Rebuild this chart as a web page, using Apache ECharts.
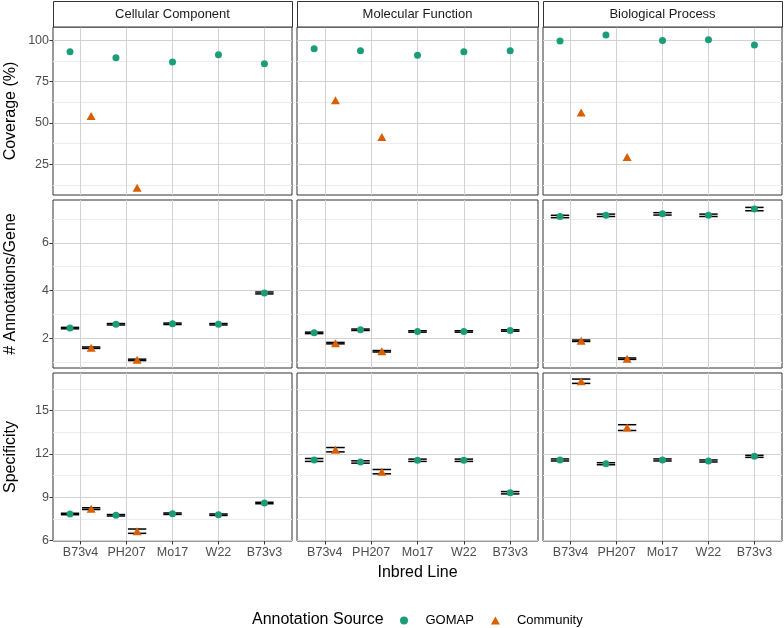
<!DOCTYPE html>
<html><head><meta charset="utf-8">
<script src="https://cdn.jsdelivr.net/npm/echarts@6/dist/echarts.min.js"></script>
<style>html,body{margin:0;padding:0;background:#fff}#c{width:784px;height:628px}</style>
</head><body><div id="c"></div><script>
// ---------------- data ----------------
const categories = ['B73v4', 'PH207', 'Mo17', 'W22', 'B73v3'];
const facets = ['Cellular Component', 'Molecular Function', 'Biological Process'];
const rowTitles = ['Coverage (%)', '# Annotations/Gene', 'Specificity'];
const sources = ['GOMAP', 'Community'];

// Coverage (%)  (no error bars)
const covGomapCC = [92.9, 89.3, 86.7, 91.1, 85.7];
const covCommCC  = [54.2, 10.8, null, null, null];
const covGomapMF = [94.7, 93.5, 90.9, 92.9, 93.5];
const covCommMF  = [63.7, 41.5, null, null, null];
const covGomapBP = [99.4, 103.0, 99.8, 100.2, 97.0];
const covCommBP  = [56.2, 29.4, null, null, null];

// # Annotations/Gene (mean and standard error)
const annGomapCC = [2.43, 2.59, 2.61, 2.59, 3.90];
const annGomapCCse = [0.03, 0.03, 0.03, 0.03, 0.04];
const annCommCC  = [1.61, 1.10, null, null, null];
const annCommCCse = [0.03, 0.03, null, null, null];
const annGomapMF = [2.23, 2.36, 2.29, 2.29, 2.33];
const annGomapMFse = [0.03, 0.03, 0.03, 0.03, 0.03];
const annCommMF  = [1.80, 1.46, null, null, null];
const annCommMFse = [0.03, 0.03, null, null, null];
const annGomapBP = [7.10, 7.15, 7.21, 7.15, 7.41];
const annGomapBPse = [0.05, 0.05, 0.05, 0.05, 0.07];
const annCommBP  = [1.90, 1.15, null, null, null];
const annCommBPse = [0.03, 0.03, null, null, null];

// Specificity (mean and standard error)
const specGomapCC = [7.85, 7.76, 7.87, 7.80, 8.61];
const specGomapCCse = [0.05, 0.05, 0.05, 0.05, 0.05];
const specCommCC  = [8.22, 6.66, null, null, null];
const specCommCCse = [0.06, 0.15, null, null, null];
const specGomapMF = [11.59, 11.45, 11.57, 11.57, 9.32];
const specGomapMFse = [0.10, 0.08, 0.08, 0.08, 0.08];
const specCommMF  = [12.30, 10.78, null, null, null];
const specCommMFse = [0.15, 0.15, null, null, null];
const specGomapBP = [11.59, 11.33, 11.59, 11.52, 11.84];
const specGomapBPse = [0.07, 0.07, 0.07, 0.07, 0.07];
const specCommBP  = [17.04, 13.83, null, null, null];
const specCommBPse = [0.15, 0.20, null, null, null];

// tick labels per row
const rowTicks = [[25, 50, 75, 100], [2, 4, 6], [6, 9, 12, 15]];
const rowMinor = [[12.5, 37.5, 62.5, 87.5], [1, 3, 5, 7], [7.5, 10.5, 13.5, 16.5]];

// ---------------- table built from the arrays ----------------
const panels = [
  [ {g: covGomapCC, gs: null, c: covCommCC, cs: null},
    {g: covGomapMF, gs: null, c: covCommMF, cs: null},
    {g: covGomapBP, gs: null, c: covCommBP, cs: null} ],
  [ {g: annGomapCC, gs: annGomapCCse, c: annCommCC, cs: annCommCCse},
    {g: annGomapMF, gs: annGomapMFse, c: annCommMF, cs: annCommMFse},
    {g: annGomapBP, gs: annGomapBPse, c: annCommBP, cs: annCommBPse} ],
  [ {g: specGomapCC, gs: specGomapCCse, c: specCommCC, cs: specCommCCse},
    {g: specGomapMF, gs: specGomapMFse, c: specCommMF, cs: specCommMFse},
    {g: specGomapBP, gs: specGomapBPse, c: specCommBP, cs: specCommBPse} ]
];

// ---------------- layout / style ----------------
const colLeft = [53, 297, 543];
const colWidth = [239, 241, 239];
const rowTop = [27, 200, 373];
const rowHeight = 168;
const rowRange = [[6.4, 107.9], [0.76, 7.79], [5.98, 17.61]];
const dodge = 0.23;
const colors = {GOMAP: '#1B9E77', Community: '#D95F02'};
const FONT = 'Liberation Sans, Arial, Helvetica, sans-serif';
const majorCol = '#d2d2d2', minorCol = '#ececec', borderCol = '#333333';

const grids = [], xAxes = [], yAxes = [], series = [], graphics = [];

function errRender(params, api) {
  const x = api.value(0), lo = api.value(1), hi = api.value(2);
  const pLo = api.coord([x, lo]), pHi = api.coord([x, hi]);
  const half = api.size([0.2, 0])[0];
  const st = {stroke: '#000', lineWidth: 1.5};
  return {type: 'group', children: [
    {type: 'line', shape: {x1: pLo[0], y1: pLo[1], x2: pHi[0], y2: pHi[1]}, style: st},
    {type: 'line', shape: {x1: pLo[0] - half, y1: pLo[1], x2: pLo[0] + half, y2: pLo[1]}, style: st},
    {type: 'line', shape: {x1: pHi[0] - half, y1: pHi[1], x2: pHi[0] + half, y2: pHi[1]}, style: st}
  ]};
}

for (let r = 0; r < 3; r++) {
  for (let c = 0; c < 3; c++) {
    const gi = r * 3 + c;
    grids.push({left: colLeft[c], top: rowTop[r], width: colWidth[c], height: rowHeight,
      show: true, borderColor: borderCol, borderWidth: 1, backgroundColor: '#fff'});
    xAxes.push({gridIndex: gi, type: 'value', min: 0.4, max: 5.6, position: 'bottom',
      axisLine: {show: false},
      axisTick: {show: r === 2, customValues: [1, 2, 3, 4, 5], length: 3.5, lineStyle: {color: borderCol}},
      axisLabel: {show: r === 2, customValues: [1, 2, 3, 4, 5], formatter: v => categories[Math.round(v) - 1],
        color: '#4d4d4d', fontSize: 12.5, fontFamily: FONT, margin: 5},
      splitLine: {show: true, lineStyle: {color: majorCol, width: 1}}
    });
    // minor axis (index 2*gi)
    yAxes.push({gridIndex: gi, type: 'value', position: 'left', min: rowRange[r][0], max: rowRange[r][1],
      axisLine: {show: false}, axisTick: {show: false, customValues: rowMinor[r]},
      axisLabel: {show: false, customValues: rowMinor[r]},
      splitLine: {show: true, lineStyle: {color: minorCol, width: 1}}
    });
    // major axis (index 2*gi+1)
    yAxes.push({gridIndex: gi, type: 'value', position: 'left', offset: 0, min: rowRange[r][0], max: rowRange[r][1],
      axisLine: {show: false},
      axisTick: {show: c === 0, customValues: rowTicks[r], length: 3.5, lineStyle: {color: borderCol}},
      axisLabel: {show: c === 0, customValues: rowTicks[r], color: '#4d4d4d', fontSize: 12.5, fontFamily: FONT, margin: 4},
      splitLine: {show: true, lineStyle: {color: majorCol, width: 1}}
    });
    const p = panels[r][c];
    const gPts = [], cPts = [], gErr = [], cErr = [];
    categories.forEach((cat, i) => {
      const hasC = p.c[i] !== null;
      const gx = i + 1 - (hasC ? dodge : 0);
      if (p.g[i] !== null) {
        gPts.push([gx, p.g[i]]);
        if (p.gs) gErr.push([gx, p.g[i] - p.gs[i], p.g[i] + p.gs[i]]);
      }
      if (hasC) {
        const cx = i + 1 + dodge;
        cPts.push([cx, p.c[i]]);
        if (p.cs) cErr.push([cx, p.c[i] - p.cs[i], p.c[i] + p.cs[i]]);
      }
    });
    if (gErr.length) {
      series.push({type: 'custom', xAxisIndex: gi, yAxisIndex: 2 * gi + 1, renderItem: errRender,
        data: gErr.concat(cErr), encode: {x: 0, y: [1, 2]}, z: 2, silent: true});
    }
    series.push({name: 'GOMAP', type: 'scatter', xAxisIndex: gi, yAxisIndex: 2 * gi + 1,
      data: gPts, symbol: 'circle', symbolSize: 7, itemStyle: {color: colors.GOMAP, opacity: 1}, z: 3, silent: true});
    series.push({name: 'Community', type: 'scatter', xAxisIndex: gi, yAxisIndex: 2 * gi + 1,
      data: cPts, symbol: 'triangle', symbolSize: [9, 8], itemStyle: {color: colors.Community, opacity: 1}, z: 3, silent: true});
  }
}

// strips
facets.forEach((f, c) => {
  graphics.push({type: 'rect', shape: {x: colLeft[c] + 0.5, y: 1.5, width: colWidth[c], height: 25.5},
    style: {fill: '#fff', stroke: borderCol, lineWidth: 1}, z: 10});
  graphics.push({type: 'text', x: colLeft[c] + colWidth[c] / 2, y: 14.5,
    style: {text: f, fill: '#1a1a1a', font: '13px ' + FONT, textAlign: 'center', textVerticalAlign: 'middle'}, z: 11});
});
// y-axis titles
rowTitles.forEach((t, r) => {
  graphics.push({type: 'text', x: 11, y: rowTop[r] + rowHeight / 2, rotation: Math.PI / 2,
    style: {text: t, fill: '#000', font: '16px ' + FONT, textAlign: 'center', textVerticalAlign: 'middle'}, z: 11});
});
// x-axis title
graphics.push({type: 'text', x: 417.5, y: 572.5,
  style: {text: 'Inbred Line', fill: '#000', font: '16px ' + FONT, textAlign: 'center', textVerticalAlign: 'middle'}, z: 11});
// legend title
graphics.push({type: 'text', x: 252, y: 620,
  style: {text: 'Annotation Source', fill: '#000', font: '16px ' + FONT, textAlign: 'left', textVerticalAlign: 'middle'}, z: 11});

const option = {
  animation: false,
  backgroundColor: '#fff',
  textStyle: {fontFamily: FONT},
  grid: grids, xAxis: xAxes, yAxis: yAxes, series: series,
  legend: {
    data: [{name: 'GOMAP', icon: 'circle'}, {name: 'Community', icon: 'triangle'}],
    left: 395, top: 609, itemWidth: 9, itemHeight: 8, itemGap: 17, selectedMode: false,
    textStyle: {fontSize: 13, color: '#000', fontFamily: FONT, padding: [0, 0, 0, 12]}
  },
  graphic: graphics
};
const chart = echarts.init(document.getElementById('c'), null, {renderer: 'canvas'});
chart.setOption(option);
</script></body></html>
